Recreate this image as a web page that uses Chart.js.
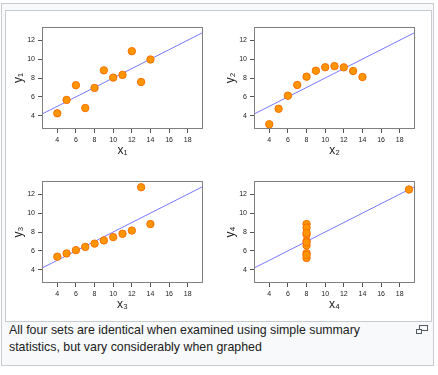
<!DOCTYPE html>
<html>
<head>
<meta charset="utf-8">
<script src="https://cdn.jsdelivr.net/npm/chart.js@4/dist/chart.umd.min.js"></script>
<style>
  html, body { margin: 0; padding: 0; background: #ffffff; }
  body { width: 438px; height: 375px; position: relative; overflow: hidden; font-family: "Liberation Sans", Arial, sans-serif; }
  #frame { position: absolute; left: 1px; top: 3px; width: 433px; height: 363px; box-sizing: border-box; border: 1px solid #c8ccd1; background: #f8f9fa; }
  #imgbox { position: absolute; left: 5px; top: 10px; width: 427px; height: 312px; box-sizing: border-box; border: 1px solid #c8ccd1; background: #ffffff; }
  .panel { position: absolute; }
  #caption { position: absolute; left: 9px; top: 322px; width: 400px; font-size: 12.376px; line-height: 17.3px; color: #202122; }
  #mag { position: absolute; left: 415px; top: 324px; }
</style>
</head>
<body>
<div id="frame"></div>
<div id="imgbox"></div>
<canvas id="c1" class="panel" width="201" height="150" style="left:8px;top:14px;width:201px;height:150px"></canvas>
<canvas id="c2" class="panel" width="201" height="150" style="left:220px;top:14px;width:201px;height:150px"></canvas>
<canvas id="c3" class="panel" width="201" height="150" style="left:8px;top:168px;width:201px;height:150px"></canvas>
<canvas id="c4" class="panel" width="201" height="150" style="left:220px;top:168px;width:201px;height:150px"></canvas>
<div id="caption">All four sets are identical when examined using simple summary<br>statistics, but vary considerably when graphed</div>
<svg id="mag" width="14" height="11" viewBox="0 0 14 11">
  <rect x="4.5" y="1.5" width="8" height="5" fill="none" stroke="#54595d" stroke-width="1"/>
  <rect x="1.5" y="5.5" width="5" height="4" fill="#f8f9fa" stroke="#54595d" stroke-width="1"/>
</svg>
<script>
// ---- Data (Anscombe's quartet) ----
const x123 = [10, 8, 13, 9, 11, 14, 6, 4, 12, 7, 5];
const y1 = [8.04, 6.95, 7.58, 8.81, 8.33, 9.96, 7.24, 4.26, 10.84, 4.82, 5.68];
const y2 = [9.14, 8.14, 8.74, 8.77, 9.26, 8.10, 6.13, 3.10, 9.13, 7.26, 4.74];
const y3 = [7.46, 6.77, 12.74, 7.11, 7.81, 8.84, 6.08, 5.39, 8.15, 6.42, 5.73];
const x4 = [8, 8, 8, 8, 8, 8, 8, 19, 8, 8, 8];
const y4 = [6.58, 5.76, 7.71, 8.84, 8.47, 7.04, 5.25, 12.50, 5.56, 7.91, 6.89];

// Fitted regression line shared by all four sets: y = intercept + slope * x
const fitIntercept = 3.0;
const fitSlope = 0.5;

// Axis ranges and tick labels
const xRange = [2.36, 19.64];
const yRange = [2.6, 13.4];
const xTicks = [4, 6, 8, 10, 12, 14, 16, 18];
const yTicks = [4, 6, 8, 10, 12];

const panels = [
  { id: 'c1', xs: x123, ys: y1, xLabel: 'x\u2081', yLabel: 'y\u2081' },
  { id: 'c2', xs: x123, ys: y2, xLabel: 'x\u2082', yLabel: 'y\u2082' },
  { id: 'c3', xs: x123, ys: y3, xLabel: 'x\u2083', yLabel: 'y\u2083' },
  { id: 'c4', xs: x4,   ys: y4, xLabel: 'x\u2084', yLabel: 'y\u2084' }
];

const FONT = '"Liberation Sans", Arial, sans-serif';

const boxPlugin = {
  id: 'plotBox',
  afterDatasetsDraw(chart) {
    const a = chart.chartArea, ctx = chart.ctx;
    ctx.save();
    ctx.strokeStyle = '#808080';
    ctx.lineWidth = 1;
    const l = Math.round(a.left) + 0.5, t = Math.round(a.top) + 0.5;
    const r = Math.round(a.right) - 0.5, b = Math.round(a.bottom) - 0.5;
    ctx.strokeRect(l, t, r - l, b - t);
    ctx.restore();
  }
};

panels.forEach(p => {
  const pts = p.xs.map((x, i) => ({ x: x, y: p.ys[i] }));
  const fit = xRange.map(x => ({ x: x, y: fitIntercept + fitSlope * x }));
  new Chart(document.getElementById(p.id), {
    type: 'scatter',
    data: {
      datasets: [
        {
          type: 'scatter',
          data: pts,
          backgroundColor: '#ff9500',
          borderColor: '#f77000',
          borderWidth: 1,
          pointRadius: 3.7,
          pointHoverRadius: 3.7
        },
        {
          type: 'line',
          data: fit,
          borderColor: '#7878ff',
          borderWidth: 1,
          pointRadius: 0,
          fill: false,
          tension: 0
        }
      ]
    },
    options: {
      responsive: false,
      animation: false,
      devicePixelRatio: 1,
      layout: { padding: { top: 13, right: 6, left: 0, bottom: 0 } },
      plugins: { legend: { display: false }, tooltip: { enabled: false } },
      events: [],
      scales: {
        x: {
          type: 'linear',
          position: 'bottom',
          min: xRange[0],
          max: xRange[1],
          afterBuildTicks: s => { s.ticks = xTicks.map(v => ({ value: v })); },
          afterFit: s => { s.height = 35; },
          grid: { drawOnChartArea: false, drawTicks: true, tickLength: 4, color: '#555' },
          border: { display: false },
          ticks: { font: { size: 7, family: FONT }, color: '#222', padding: 3, maxRotation: 0, autoSkip: false },
          title: { display: true, text: p.xLabel, color: '#222', font: { size: 12, family: FONT }, padding: { top: 0, bottom: 6 } }
        },
        y: {
          type: 'linear',
          position: 'left',
          min: yRange[0],
          max: yRange[1],
          afterBuildTicks: s => { s.ticks = yTicks.map(v => ({ value: v })); },
          afterFit: s => { s.width = 34; },
          grid: { drawOnChartArea: false, drawTicks: true, tickLength: 4, color: '#555' },
          border: { display: false },
          ticks: { font: { size: 7, family: FONT }, color: '#222', padding: 3, autoSkip: false },
          title: { display: true, text: p.yLabel, color: '#222', font: { size: 12, family: FONT }, padding: { top: 3, bottom: 0 } }
        }
      }
    },
    plugins: [boxPlugin]
  });
});
</script>
</body>
</html>
